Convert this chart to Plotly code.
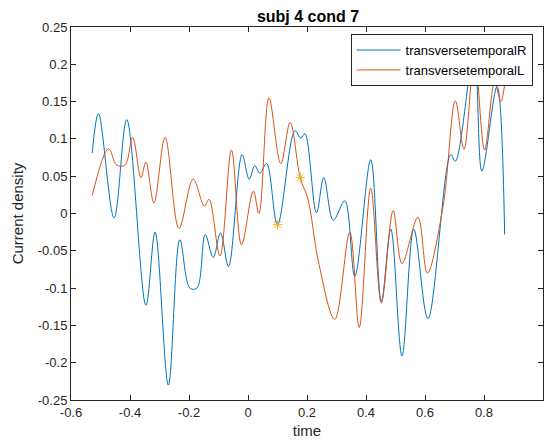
import plotly.graph_objects as go

# Blue series: transversetemporalR (key points)
t_R = [-0.528, -0.507, -0.454, -0.411, -0.346, -0.315, -0.270, -0.231, -0.197, -0.173,
       -0.145, -0.118, -0.093, -0.066, -0.020, 0.004, 0.023, 0.040, 0.063, 0.100,
       0.159, 0.179, 0.193, 0.232, 0.257, 0.289, 0.328, 0.362, 0.416, 0.452,
       0.484, 0.522, 0.562, 0.610, 0.687, 0.703, 0.766, 0.793, 0.844, 0.870]
v_R = [0.081, 0.134, -0.006, 0.126, -0.123, -0.025, -0.230, -0.035, -0.100, -0.100,
       -0.028, -0.059, -0.026, -0.071, 0.079, 0.046, 0.064, 0.054, 0.067, -0.015,
       0.111, 0.101, 0.107, 0.001, 0.048, -0.009, 0.017, -0.084, 0.072, -0.118,
       -0.021, -0.191, -0.021, -0.141, 0.079, 0.070, 0.215, 0.057, 0.170, -0.028]

# Orange series: transversetemporalL
t_L = [-0.528, -0.473, -0.445, -0.417, -0.391, -0.363, -0.346, -0.319, -0.281, -0.234,
       -0.186, -0.148, -0.132, -0.095, -0.056, -0.022, 0.018, 0.037, 0.071, 0.111,
       0.143, 0.177, 0.204, 0.238, 0.294, 0.345, 0.377, 0.416, 0.452, 0.492,
       0.522, 0.576, 0.608, 0.661, 0.703, 0.732, 0.768, 0.802, 0.836, 0.857, 0.870]
v_L = [0.024, 0.087, 0.065, 0.065, 0.102, 0.048, 0.069, 0.014, 0.102, -0.020,
       0.046, 0.010, 0.019, -0.057, 0.085, -0.042, 0.030, 0.000, 0.155, 0.067,
       0.122, 0.048, 0.018, -0.063, -0.142, -0.025, -0.153, 0.034, -0.120, 0.004,
       -0.067, -0.005, -0.080, 0.009, 0.151, 0.086, 0.210, 0.085, 0.176, 0.150, 0.173]

# Marked points
star_t = [0.100, 0.177]
star_v = [-0.015, 0.048]

x_ticks = [-0.6, -0.4, -0.2, 0, 0.2, 0.4, 0.6, 0.8, 1]
x_labels = ["-0.6", "-0.4", "-0.2", "0", "0.2", "0.4", "0.6", "0.8", "1"]
y_ticks = [-0.25, -0.2, -0.15, -0.1, -0.05, 0, 0.05, 0.1, 0.15, 0.2, 0.25]
y_labels = ["-0.25", "-0.2", "-0.15", "-0.1", "-0.05", "0", "0.05", "0.1", "0.15", "0.2", "0.25"]

BLUE = "#0072BD"
ORANGE = "#D95319"
YELLOW = "#EDB120"
AX = "#262626"
FONT = "Liberation Sans, Arial, Helvetica, sans-serif"

fig = go.Figure()
fig.add_trace(go.Scatter(x=t_R, y=v_R, mode="lines", name="transversetemporalR",
                         line=dict(color=BLUE, width=1, shape="spline", smoothing=1.0)))
fig.add_trace(go.Scatter(x=t_L, y=v_L, mode="lines", name="transversetemporalL",
                         line=dict(color=ORANGE, width=1, shape="spline", smoothing=1.0)))
fig.add_trace(go.Scatter(x=star_t, y=star_v, mode="markers", showlegend=False,
                         marker=dict(symbol="asterisk-open", size=8, color=YELLOW,
                                     line=dict(color=YELLOW, width=1))))

axis_common = dict(showgrid=False, zeroline=False, showline=True, linecolor=AX, linewidth=1,
                   mirror="ticks", ticks="inside", ticklen=5, tickcolor=AX, automargin=False,
                   tickfont=dict(family=FONT, size=13, color=AX))

fig.update_layout(
    width=545, height=444,
    margin=dict(l=71, r=2, t=27, b=44),
    paper_bgcolor="white", plot_bgcolor="white",
    title=dict(text="<b>subj 4 cond 7</b>", x=308 / 545, xanchor="center",
               y=1 - 16 / 444, yanchor="middle", automargin=False,
               font=dict(family=FONT, size=16, color="black")),
    xaxis=dict(range=[-0.6, 1], tickvals=x_ticks, ticktext=x_labels,
               title=dict(text="time", font=dict(family=FONT, size=15, color=AX), standoff=6),
               **axis_common),
    yaxis=dict(range=[-0.25, 0.25], tickvals=y_ticks, ticktext=y_labels,
               title=dict(text="Current density", font=dict(family=FONT, size=15, color=AX), standoff=10),
               **axis_common),
    legend=dict(x=0.978, y=0.981, xanchor="right", yanchor="top",
                bgcolor="white", bordercolor=AX, borderwidth=1,
                font=dict(family=FONT, size=13, color="black"),
                itemwidth=44, tracegroupgap=0),
    showlegend=True,
)

fig.write_html("out.html", config={"displayModeBar": False},
               post_script="document.body.style.margin='0';")
